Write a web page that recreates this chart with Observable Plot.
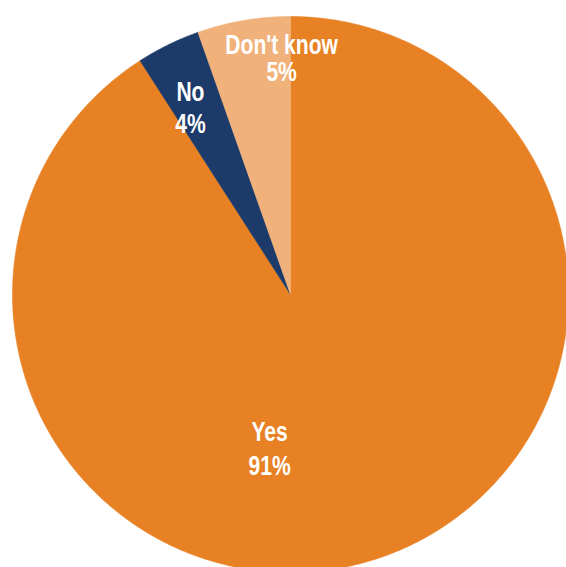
<!DOCTYPE html>
<html>
<head>
<meta charset="utf-8">
<script src="https://cdn.jsdelivr.net/npm/d3@7"></script>
<script src="https://cdn.jsdelivr.net/npm/@observablehq/plot@0.6"></script>
<style>
  html, body { margin: 0; padding: 0; background: #fff; overflow: hidden; }
  #chart svg { display: block; }
</style>
</head>
<body>
<div id="chart"></div>
<script>
// ---- data ----
const categories = ["Yes", "No", "Don't know"];
const values = [90.9, 3.7, 5.4];
const labels = ["Yes\n91%", "No\n4%", "Don't know\n5%"];
const colors = ["#E78124", "#1C3A6A", "#F0B27A"];

// ---- layout ----
const W = 566, H = 567;
const cx = 290, cy = 294, R = 278;

// pie geometry in data space (unit circle), clockwise from 12 o'clock
const arcs = d3.pie().sort(null).value(d => d)(values);
const rows = [];
arcs.forEach((a, i) => {
  const cat = categories[i];
  rows.push({cat, x: 0, y: 0});
  const n = Math.max(2, Math.ceil((a.endAngle - a.startAngle) / (Math.PI / 720)));
  for (let k = 0; k <= n; k++) {
    const t = a.startAngle + (a.endAngle - a.startAngle) * k / n;
    rows.push({cat, x: Math.sin(t), y: Math.cos(t)});
  }
  rows.push({cat, x: 0, y: 0});
});

const slices = arcs.map((a, i) => ({
  cat: categories[i], label: labels[i], mid: (a.startAngle + a.endAngle) / 2
}));

// label placement: radial fraction + pixel nudge
const labelStyle = [
  {k: 0.60, dx: -68, dy: -7, lh: 1.26},
  {k: 0.72, dx: -12, dy: -8, lh: 1.17},
  {k: 0.85, dx: 31, dy: -3, lh: 1.03}
];

const font = "'Liberation Sans', Arial, sans-serif";

const textMarks = slices.map((s, i) => Plot.text([s], {
  x: d => labelStyle[i].k * Math.sin(d.mid),
  y: d => labelStyle[i].k * Math.cos(d.mid),
  text: "label",
  fill: "white",
  fontSize: 27,
  fontWeight: "bold",
  fontFamily: font,
  lineHeight: labelStyle[i].lh,
  dx: labelStyle[i].dx,
  dy: labelStyle[i].dy
}));

const chart = Plot.plot({
  width: W,
  height: H,
  margin: 0,
  style: {background: "white", overflow: "hidden"},
  x: {domain: [-1, 1], range: [cx - R, cx + R], axis: null},
  y: {domain: [-1, 1], range: [cy + R, cy - R], axis: null},
  color: {domain: categories, range: colors},
  marks: [
    Plot.line(rows, {x: "x", y: "y", z: "cat", fill: "cat", stroke: "cat", strokeWidth: 0.6, curve: "linear"}),
    ...textMarks
  ]
});

// condense the label glyphs horizontally (narrow bold face look)
const squeeze = 0.78;
chart.querySelectorAll("g[aria-label='text'] text").forEach(t => {
  const tr = t.getAttribute("transform");
  if (tr) {
    t.setAttribute("transform", tr + ` scale(${squeeze},1)`);
  } else {
    const x = +t.getAttribute("x") || 0, y = +t.getAttribute("y") || 0;
    t.removeAttribute("x"); t.removeAttribute("y");
    t.setAttribute("transform", `translate(${x},${y}) scale(${squeeze},1)`);
  }
});
document.getElementById("chart").appendChild(chart);
</script>
</body>
</html>
